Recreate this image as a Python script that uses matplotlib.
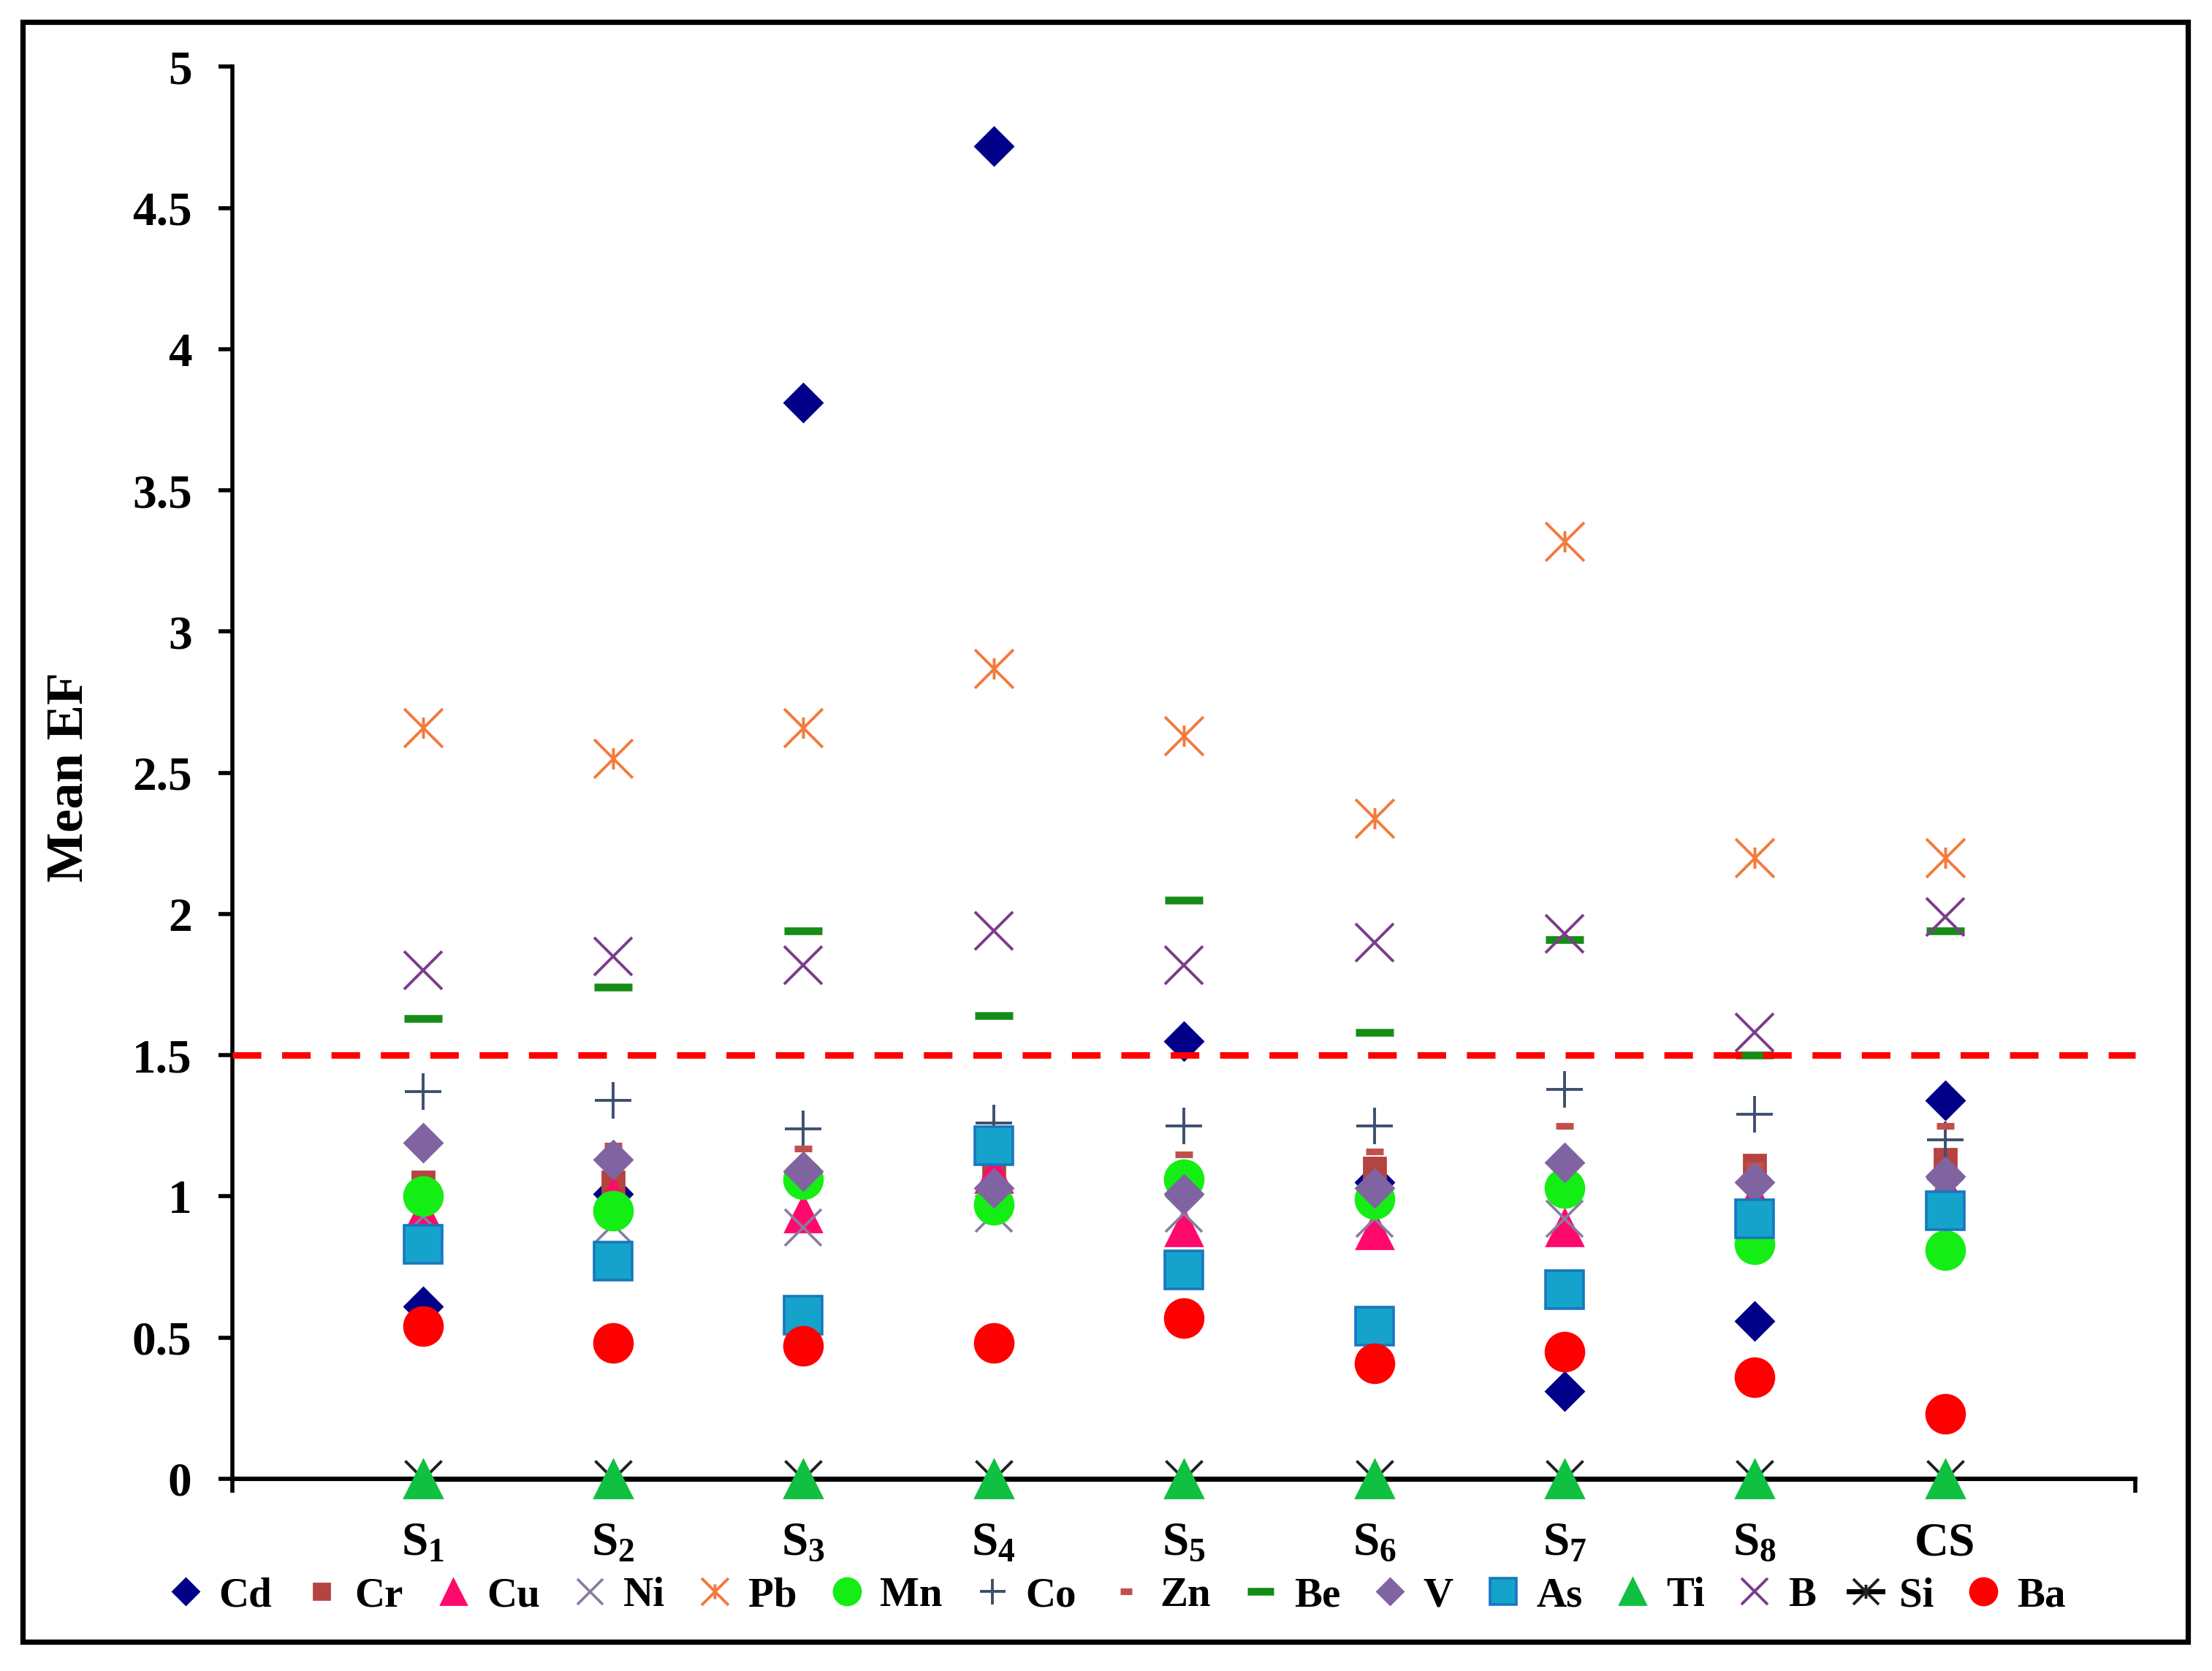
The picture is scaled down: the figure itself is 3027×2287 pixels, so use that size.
import matplotlib
matplotlib.use("Agg")
import matplotlib.pyplot as plt
from matplotlib.path import Path
from matplotlib.patches import Rectangle

plt.rcParams['font.family'] = ['Liberation Serif', 'DejaVu Serif']
plt.rcParams['font.weight'] = 'bold'
plt.rcParams['mathtext.fontset'] = 'custom'
plt.rcParams['mathtext.rm'] = 'Liberation Serif:bold'
plt.rcParams['mathtext.bf'] = 'Liberation Serif:bold'
plt.rcParams['mathtext.it'] = 'Liberation Serif:bold:italic'

# ---- data ----
sites = [r'$\mathrm{S_1}$', r'$\mathrm{S_2}$', r'$\mathrm{S_3}$', r'$\mathrm{S_4}$',
         r'$\mathrm{S_5}$', r'$\mathrm{S_6}$', r'$\mathrm{S_7}$', r'$\mathrm{S_8}$', 'CS']
x_pos = [1, 2, 3, 4, 5, 6, 7, 8, 9]

Cd = [0.61, 1.01, 3.81, 4.72, 1.55, 1.05, 0.31, 0.56, 1.34]
Cr = [1.05, 1.05, 1.06, 1.10, 1.06, 1.10, 1.03, 1.11, 1.13]
Cu = [0.94, 1.00, 0.94, 1.08, 0.89, 0.88, 0.89, 0.99, 1.03]
Ni = [0.93, 0.90, 0.89, 0.94, 0.94, 0.92, 0.92, 0.99, 1.00]
Pb = [2.66, 2.55, 2.66, 2.87, 2.63, 2.34, 3.32, 2.20, 2.20]
Mn = [1.00, 0.95, 1.06, 0.97, 1.06, 0.99, 1.03, 0.83, 0.81]
Co = [1.37, 1.34, 1.24, 1.26, 1.25, 1.25, 1.38, 1.29, 1.20]
Zn = [1.19, 1.18, 1.17, 1.20, 1.15, 1.16, 1.25, 1.11, 1.25]
Be = [1.63, 1.74, 1.94, 1.64, 2.05, 1.58, 1.91, 1.50, 1.94]
V = [1.19, 1.13, 1.09, 1.03, 1.01, 1.03, 1.12, 1.05, 1.07]
As = [0.83, 0.77, 0.58, 1.18, 0.74, 0.54, 0.67, 0.92, 0.95]
Ti = [0, 0, 0, 0, 0, 0, 0, 0, 0]
B = [1.80, 1.85, 1.82, 1.94, 1.82, 1.90, 1.93, 1.58, 1.99]
Si = [0, 0, 0, 0, 0, 0, 0, 0, 0]
Ba = [0.54, 0.48, 0.47, 0.48, 0.57, 0.41, 0.45, 0.36, 0.23]
threshold = 1.5
y_ticks = [0, 0.5, 1, 1.5, 2, 2.5, 3, 3.5, 4, 4.5, 5]

# asterisk marker (X with short vertical bar)
star = Path([(-1, -1), (1, 1), (-1, 1), (1, -1), (0, -0.55), (0, 0.55)],
            [Path.MOVETO, Path.LINETO, Path.MOVETO, Path.LINETO, Path.MOVETO, Path.LINETO])

fig = plt.figure(figsize=(3027 / 200, 2287 / 200), dpi=200)
ax = fig.add_axes([0.1051, 0.1150, 0.8603, 0.845])

series = [
    ('Cd', Cd, dict(marker='D', ms=13.2, mfc='#000088', mec='#000088', mew=1)),
    ('Cr', Cr, dict(marker='s', ms=11, mfc='#B4443F', mec='#B4443F', mew=1)),
    ('Cu', Cu, dict(marker='^', ms=18, mfc='#FF0A6C', mec='#FF0A6C', mew=1)),
    ('Ni', Ni, dict(marker='x', ms=18, mec='#8A7CA0', mew=1.3)),
    ('Pb', Pb, dict(marker=star, ms=19, mfc='none', mec='#F47A3C', mew=1.4)),
    ('Mn', Mn, dict(marker='o', ms=19, mfc='#14EE14', mec='#14EE14', mew=1)),
    ('Co', Co, dict(marker='+', ms=18, mec='#3D4F6E', mew=1.4)),
    ('Zn', Zn, dict(marker='_', ms=8.5, mec='#C0504D', mew=3.3)),
    ('Be', Be, dict(marker='_', ms=18.5, mec='#168C16', mew=3.8)),
    ('V', V, dict(marker='D', ms=13.2, mfc='#8064A2', mec='#8064A2', mew=1)),
    ('As', As, dict(marker='s', ms=18.4, mfc='#16A3CB', mec='#1877C0', mew=1.3)),
    ('Si', Si, dict(marker=star, ms=18, mfc='none', mec='#202020', mew=1.4,
                    ls='-', color='black', lw=2.5)),
    ('Ti', Ti, dict(marker='^', ms=18.5, mfc='#10C040', mec='#10C040', mew=1)),
    ('B', B, dict(marker='x', ms=19, mec='#7D3C8C', mew=1.4)),
    ('Ba', Ba, dict(marker='o', ms=19, mfc='#FF0000', mec='#FF0000', mew=1)),
]

handles = {}
for name, vals, kw in series:
    if 'ls' not in kw:
        kw = dict(kw, ls='none')
    ln, = ax.plot(x_pos, vals, label=name, clip_on=False, zorder=3, **kw)
    handles[name] = ln

ax.plot([0, 10], [threshold, threshold], color='#FF0000', lw=3.2,
        dashes=(4.4, 3.2), zorder=6, clip_on=False)

ax.set_xlim(0, 10)
ax.set_ylim(0, 5)
for s in ['top', 'right']:
    ax.spines[s].set_visible(False)
ax.spines['left'].set_linewidth(2)
ax.spines['bottom'].set_linewidth(2.2)

ax.set_yticks(y_ticks)
ax.set_yticklabels([('%g' % v) for v in y_ticks])
ax.tick_params(axis='y', which='major', length=7, width=2, direction='out',
               labelsize=23.5, pad=13)
ax.set_xticks([0, 10])
ax.set_xticklabels(['', ''])
ax.tick_params(axis='x', which='major', length=7, width=2, direction='out')
ax.set_xticks(x_pos, minor=True)
ax.set_xticklabels(sites, minor=True)
ax.tick_params(axis='x', which='minor', length=0, labelsize=23.5, pad=21)

ax.set_ylabel('Mean EF', fontsize=26, fontweight='bold')
ax.yaxis.label.set_verticalalignment('center')
ax.yaxis.label.set_horizontalalignment('center')
ax.yaxis.set_label_coords(-0.0855, 0.497)

order = ['Cd', 'Cr', 'Cu', 'Ni', 'Pb', 'Mn', 'Co', 'Zn', 'Be', 'V', 'As', 'Ti', 'B', 'Si', 'Ba']
leg = fig.legend([handles[n] for n in order], order, loc='center',
                 bbox_to_anchor=(0.505, 0.045), ncol=15, frameon=False,
                 fontsize=20.5, markerscale=0.7, handlelength=0.8,
                 handletextpad=0.4, columnspacing=0.8, borderpad=0.2)

fig.patches.append(Rectangle((0.0102, 0.0175), 0.9790, 0.9695, transform=fig.transFigure,
                             fill=False, edgecolor='black', lw=2.6, zorder=10))

fig.savefig('out.png', dpi=200)
